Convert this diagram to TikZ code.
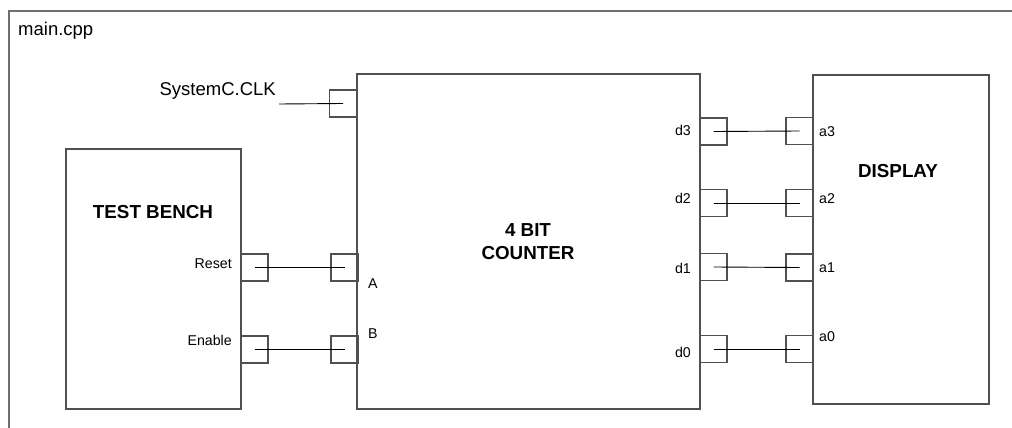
\documentclass[tikz,border=0pt]{standalone}
\usepackage{fontspec}
\setmainfont{Liberation Sans}
\usepackage{xcolor}
\usepackage{tikz}
\usetikzlibrary{positioning, calc}
\definecolor{myframe}{RGB}{110,110,110}
\definecolor{mybox}{RGB}{80,80,80}
\definecolor{mywire}{RGB}{0,0,0}
\tikzset{
  block/.style={rectangle, draw=mybox, line width=1.2pt, inner sep=0pt},
  port/.style={rectangle, draw=mybox, line width=1.1pt, minimum width=27pt, minimum height=27pt, inner sep=0pt},
  wire/.style={line width=0.9pt, color=mywire},
  lbl/.style={font=\fontsize{14.2}{16}\selectfont, inner sep=0pt},
  biglbl/.style={font=\fontsize{18.5}{20}\selectfont, inner sep=0pt},
  title/.style={font=\fontsize{18.8}{22}\selectfont\bfseries, inner sep=0pt, align=center}
}

\begin{document}
\begin{tikzpicture}[x=1pt, y=-1pt]
  \useasboundingbox (0,0) rectangle (1012,428);
  \clip (0,0) rectangle (1012,428);

  % Frame
  \draw[line width=1.2pt, myframe] (9,11) rectangle (1030,450);
  \node[biglbl, anchor=base west] (file) at (18,35.5) {main.cpp};

  % Blocks
  \node[block, minimum width=175pt, minimum height=260pt] (tb) at (153.5,279) {};
  \node[block, minimum width=343pt, minimum height=335pt] (cnt) at (528.5,241.5) {};
  \node[block, minimum width=176pt, minimum height=329pt] (disp) at (901,239.5) {};

  \node[title, anchor=base] (tbname) at (153,218) {TEST BENCH};
  \node[title, anchor=base] (cntname) at (528,259) {4 BIT\\[1pt]COUNTER};
  \node[title, anchor=base] (dispname) at (898,177) {DISPLAY};

  % Clock
  \node[port] (pclk) at (343,103.5) {};
  \coordinate (clk) at (279,104);
  \draw[wire] (clk) -- (pclk.center);
  \node[biglbl, anchor=base east] (clklbl) at (276,95.5) {SystemC.CLK};

  % Test bench -> counter
  \node[port] (prst) at (254.5,267.5) {};
  \node[port] (pen) at (254.5,349.5) {};
  \node[port] (pA) at (344.5,267.5) {};
  \node[port] (pB) at (344.5,349.5) {};
  \draw[wire] (prst.center) -- (pA.center);
  \draw[wire] (pen.center) -- (pB.center);
  \node[lbl, anchor=base east] (lrst) at (232,268) {Reset};
  \node[lbl, anchor=base east] (len) at (232,345) {Enable};
  \node[lbl, anchor=base west] (lA) at (368,288) {A};
  \node[lbl, anchor=base west] (lB) at (368,338) {B};

  % Counter -> display
  \foreach \i/\yd/\ya/\bd/\ba in {3/131.5/131/135/136, 2/203/203/203/203, 1/267/267.5/273/272, 0/349/349/357/341}{
    \node[port] (pd\i) at (713.5,\yd) {};
    \node[port] (pa\i) at (799.5,\ya) {};
    \draw[wire] (pd\i.center) -- (pa\i.center);
    \node[lbl, anchor=base east] (ld\i) at (691,\bd) {d\i};
    \node[lbl, anchor=base west] (la\i) at (819,\ba) {a\i};
  }
\end{tikzpicture}
\end{document}
